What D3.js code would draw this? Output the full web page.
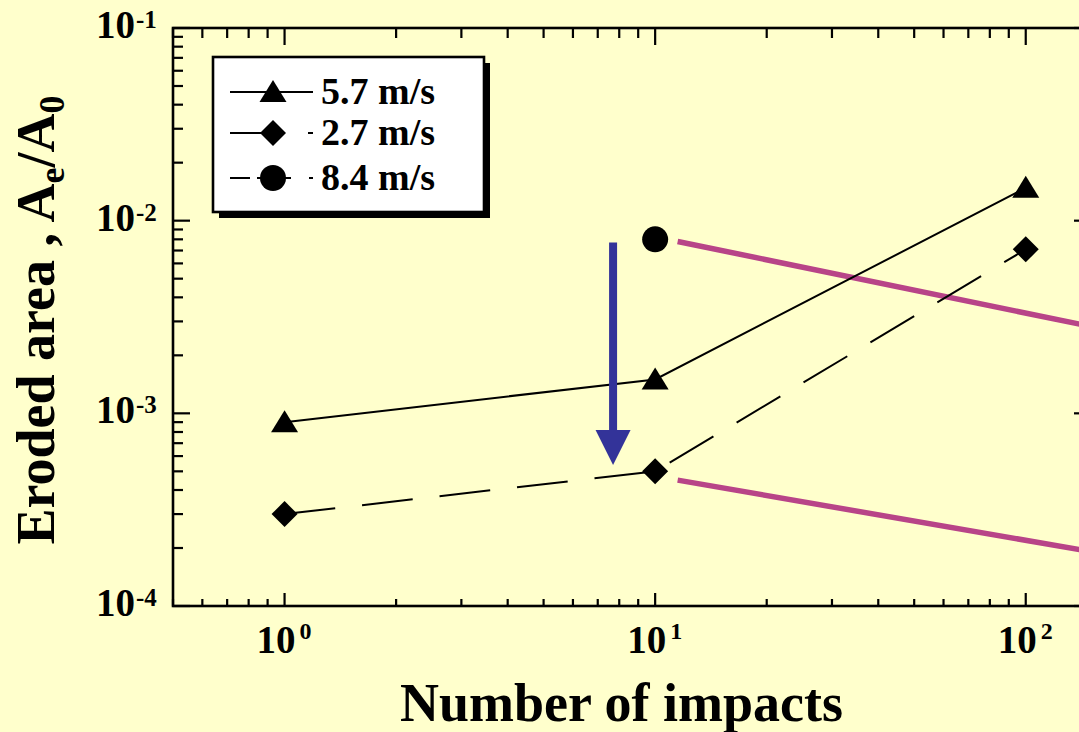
<!DOCTYPE html>
<html><head><meta charset="utf-8">
<script src="https://cdn.jsdelivr.net/npm/d3@7"></script>
<style>
html,body{margin:0;padding:0;background:#FFFFCC;}
svg{display:block;}
text{font-family:"Liberation Serif","Times New Roman",serif;font-weight:bold;fill:#000;}
</style></head>
<body>
<svg id="chart" width="1079" height="732"></svg>
<script>
// ---- data ----
const seriesNames = ["5.7 m/s", "2.7 m/s", "8.4 m/s"];
const impacts57 = [1, 10, 100];
const area57 = [9.0e-4, 1.5e-3, 1.48e-2];
const impacts27 = [1, 10, 100];
const area27 = [3.0e-4, 5.0e-4, 7.1e-3];
const impacts84 = [10];
const area84 = [8.0e-3];
const trendX = [11.5, 140];
const trendUpper = [7.8e-3, 2.9e-3];
const trendLower = [4.5e-4, 1.96e-4];
const arrowX = [7.7, 7.7];
const arrowY = [7.7e-3, 5.4e-4];
const xTickBase = ["10", "10", "10"];
const xTickExp = ["0", "1", "2"];
const yTickBase = ["10", "10", "10", "10"];
const yTickExp = ["-1", "-2", "-3", "-4"];
const xTitle = "Number of impacts";

const svg = d3.select("#chart");
const W = 1079, H = 732;
svg.append("rect").attr("width", W).attr("height", H).attr("fill", "#FFFFCC");

const L = 173, R = 1091, T = 28, B = 606;
const x = d3.scaleLog().domain([0.5, 150]).range([L, R]);
const y = d3.scaleLog().domain([1e-4, 1e-1]).range([B, T]);

const g = svg.append("g");

function logTicks(dom) {
  const lo = Math.floor(Math.log10(dom[0])), hi = Math.ceil(Math.log10(dom[1]));
  const major = [], minor = [];
  for (let e = lo; e <= hi; e++) {
    for (let k = 1; k <= 9; k++) {
      const v = k * Math.pow(10, e);
      if (v < dom[0] * 0.999 || v > dom[1] * 1.001) continue;
      (k === 1 ? major : minor).push(v);
    }
  }
  return {major, minor};
}
const xt = logTicks(x.domain()), yt = logTicks(y.domain());
const tk = g.append("g").attr("stroke", "#000").attr("stroke-width", 2.2);
xt.major.forEach(v => tk.append("line").attr("x1", x(v)).attr("x2", x(v)).attr("y1", B).attr("y2", B - 13));
xt.minor.forEach(v => tk.append("line").attr("x1", x(v)).attr("x2", x(v)).attr("y1", B).attr("y2", B - 7));
xt.major.forEach(v => tk.append("line").attr("x1", x(v)).attr("x2", x(v)).attr("y1", T).attr("y2", T + 17));
xt.minor.forEach(v => tk.append("line").attr("x1", x(v)).attr("x2", x(v)).attr("y1", T).attr("y2", T + 10));
yt.major.forEach(v => tk.append("line").attr("y1", y(v)).attr("y2", y(v)).attr("x1", L).attr("x2", L + 17));
yt.minor.forEach(v => tk.append("line").attr("y1", y(v)).attr("y2", y(v)).attr("x1", L).attr("x2", L + 10));
yt.major.forEach(v => tk.append("line").attr("y1", y(v)).attr("y2", y(v)).attr("x1", R).attr("x2", R - 17));
yt.minor.forEach(v => tk.append("line").attr("y1", y(v)).attr("y2", y(v)).attr("x1", R).attr("x2", R - 10));

g.append("rect").attr("x", L).attr("y", T).attr("width", R - L).attr("height", B - T)
  .attr("fill", "none").attr("stroke", "#000").attr("stroke-width", 2.6);

// tick labels
xt.major.forEach((v, i) => {
  const t = g.append("text").attr("x", x(v) - 28).attr("y", B + 47).attr("font-size", 39);
  t.append("tspan").text(xTickBase[i]);
  t.append("tspan").attr("dx", 4).attr("dy", -14).attr("font-size", 24).text(xTickExp[i]);
});
const yMaj = yt.major.slice().sort((a, b) => b - a);
yMaj.forEach((v, i) => {
  const t = g.append("text").attr("x", 96).attr("y", y(v) + 10).attr("font-size", 39);
  t.append("tspan").text(yTickBase[i]);
  t.append("tspan").attr("dx", 1).attr("dy", -10).attr("font-size", 25).text(yTickExp[i]);
});

// axis titles
g.append("text").attr("x", (400 + 843) / 2).attr("y", 721).attr("text-anchor", "middle")
  .attr("font-size", 54).text(xTitle);
const yt2 = g.append("text").attr("transform", "translate(54,320) rotate(-90)")
  .attr("text-anchor", "middle").attr("font-size", 54);
yt2.append("tspan").text("Eroded area , A");
yt2.append("tspan").attr("font-size", 36).attr("dy", 10).text("e");
yt2.append("tspan").attr("dy", -10).text("/A");
yt2.append("tspan").attr("font-size", 36).attr("dy", 10).text("0");

svg.append("clipPath").attr("id", "clip").append("rect")
  .attr("x", L).attr("y", T).attr("width", R - L).attr("height", B - T);
const plot = g.append("g").attr("clip-path", "url(#clip)");

const line = d3.line().x(d => x(d[0])).y(d => y(d[1]));
[trendUpper, trendLower].forEach(tv => {
  plot.append("path").datum(d3.zip(trendX, tv)).attr("d", line)
    .attr("fill", "none").attr("stroke", "#B84488").attr("stroke-width", 5.5);
});

plot.append("path").datum(d3.zip(impacts57, area57)).attr("d", line)
  .attr("fill", "none").attr("stroke", "#000").attr("stroke-width", 2);
plot.append("path").datum(d3.zip(impacts27, area27)).attr("d", line)
  .attr("fill", "none").attr("stroke", "#000").attr("stroke-width", 2).attr("stroke-dasharray", "51,27");

const triPath = "M0,-12L13.5,10L-13.5,10Z";
const diaPath = "M0,-13L13,0L0,13L-13,0Z";
plot.selectAll(".tri").data(d3.zip(impacts57, area57)).enter().append("path")
  .attr("d", triPath).attr("transform", d => `translate(${x(d[0])},${y(d[1])})`);
plot.selectAll(".dia").data(d3.zip(impacts27, area27)).enter().append("path")
  .attr("d", diaPath).attr("transform", d => `translate(${x(d[0])},${y(d[1])})`);
plot.selectAll(".cir").data(d3.zip(impacts84, area84)).enter().append("circle")
  .attr("r", 13).attr("cx", d => x(d[0])).attr("cy", d => y(d[1]));

const ax = x(arrowX[0]), ay0 = y(arrowY[0]), ay1 = y(arrowY[1]);
plot.append("line").attr("x1", ax).attr("x2", ax).attr("y1", ay0).attr("y2", ay1 - 30)
  .attr("stroke", "#333399").attr("stroke-width", 8);
plot.append("path").attr("d", `M${ax - 17.5},${ay1 - 35}L${ax + 17.5},${ay1 - 35}L${ax},${ay1}Z`)
  .attr("fill", "#333399");

// legend
const lg = g.append("g");
lg.append("rect").attr("x", 219).attr("y", 63).attr("width", 271).attr("height", 155).attr("fill", "#000");
lg.append("rect").attr("x", 213).attr("y", 57).attr("width", 271).attr("height", 155)
  .attr("fill", "#fff").attr("stroke", "#000").attr("stroke-width", 2.6);
const rowsY = [92, 133, 178];
const dashes = [null, "51,27", "20,7,34,18,5"];
const shapes = ["tri", "dia", "cir"];
seriesNames.forEach((name, i) => {
  const ry = rowsY[i];
  const ln = lg.append("line").attr("x1", 230).attr("x2", 313).attr("y1", ry).attr("y2", ry)
    .attr("stroke", "#000").attr("stroke-width", 2);
  if (dashes[i]) ln.attr("stroke-dasharray", dashes[i]);
  if (shapes[i] === "tri") lg.append("path").attr("d", triPath).attr("transform", `translate(273,${ry})`);
  else if (shapes[i] === "dia") lg.append("path").attr("d", diaPath).attr("transform", `translate(273,${ry})`);
  else lg.append("circle").attr("cx", 273).attr("cy", ry).attr("r", 13);
  lg.append("text").attr("x", 321).attr("y", ry + 12).attr("font-size", 38).text(name);
});
</script>
</body></html>
